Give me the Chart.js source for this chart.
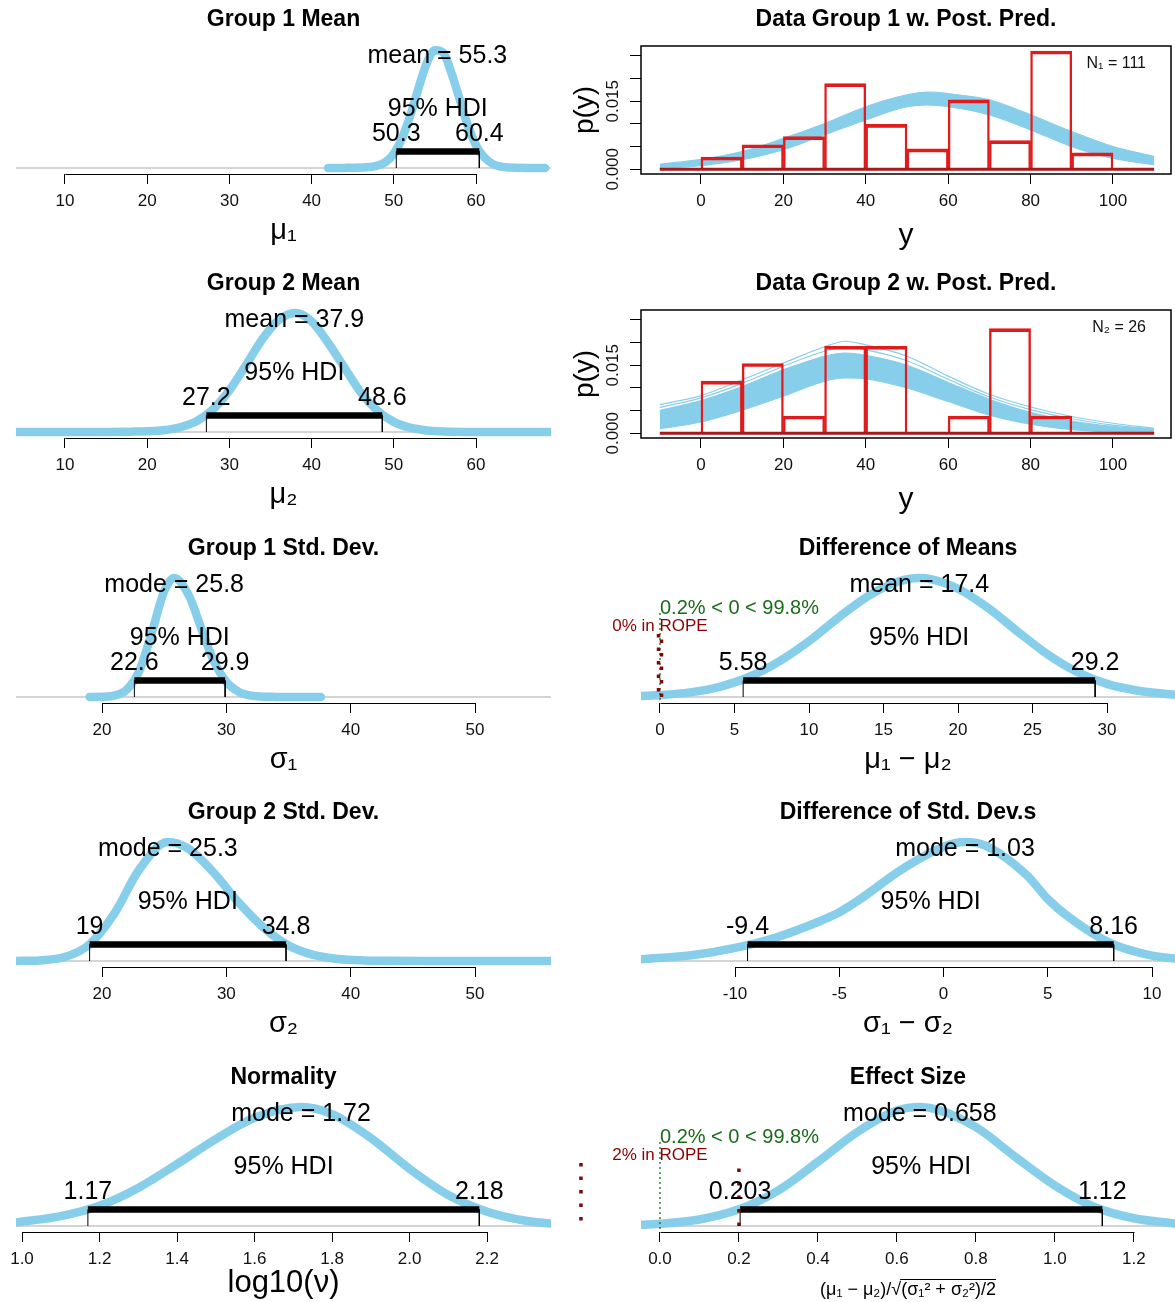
<!DOCTYPE html>
<html>
<head>
<meta charset="utf-8">
<title>BEST posterior summary</title>
<script src="https://cdn.jsdelivr.net/npm/chart.js@4.4.1/dist/chart.umd.min.js"></script>
<style>
html,body{margin:0;padding:0;background:#ffffff;}
body{position:relative;width:1175px;height:1302px;overflow:hidden;}
canvas{position:absolute;display:block;}
</style>
</head>
<body>
<script>
// ================= DATA =================
// Group 1 mean  (mu1)
const mu1Ticks  = [10, 20, 30, 40, 50, 60];
const mu1X      = [42, 44, 46, 47, 48, 49, 50, 51, 52, 53, 54, 55, 56, 57, 58, 59, 60, 61, 62, 63, 64, 66, 68.4];
const mu1Y      = [0, 0.001, 0.004, 0.008, 0.02, 0.05, 0.12, 0.25, 0.44, 0.67, 0.88, 0.99, 0.97, 0.80, 0.58, 0.36, 0.19, 0.09, 0.035, 0.012, 0.004, 0, 0];
const mu1HDI    = [50.3, 60.4];
const mu1Center = 55.3;

// Group 2 mean  (mu2)
const mu2Ticks  = [10, 20, 30, 40, 50, 60];
const mu2X      = [4, 10, 15, 18, 20, 22, 24, 26, 28, 30, 32, 34, 36, 38, 40, 42, 44, 46, 48, 50, 52, 54, 56, 60, 65, 69.1];
const mu2Y      = [0, 0, 0.001, 0.003, 0.006, 0.015, 0.04, 0.09, 0.19, 0.35, 0.56, 0.78, 0.94, 1.0, 0.93, 0.75, 0.54, 0.33, 0.18, 0.085, 0.036, 0.013, 0.004, 0, 0, 0];
const mu2HDI    = [27.2, 48.6];
const mu2Center = 37.9;

// Group 1 std. dev. (sigma1)
const sd1Ticks  = [20, 30, 40, 50];
const sd1X      = [19, 20, 21, 22, 23, 24, 25, 25.8, 27, 28, 29, 30, 31, 32, 33, 34, 35, 37.6];
const sd1Y      = [0, 0.002, 0.012, 0.063, 0.22, 0.54, 0.89, 1.0, 0.85, 0.57, 0.30, 0.127, 0.043, 0.011, 0.003, 0.001, 0, 0];
const sd1HDI    = [22.6, 29.9];
const sd1Center = 25.8;

// Group 2 std. dev. (sigma2)
const sd2Ticks  = [20, 30, 40, 50];
const sd2X      = [13.1, 15, 17, 19, 21, 23, 25.3, 27, 29, 31, 33, 35, 37, 39, 41, 43, 46, 50, 56.1];
const sd2Y      = [0.001, 0.005, 0.033, 0.14, 0.40, 0.77, 1.0, 0.94, 0.74, 0.49, 0.28, 0.13, 0.051, 0.017, 0.005, 0.0015, 0, 0, 0];
const sd2HDI    = [19, 34.8];
const sd2Center = 25.3;

// Normality log10(nu)
const nuTicks   = [1.0, 1.2, 1.4, 1.6, 1.8, 2.0, 2.2];
const nuX       = [0.985, 1.1, 1.2, 1.3, 1.4, 1.5, 1.6, 1.72, 1.8, 1.9, 2.0, 2.1, 2.2, 2.3, 2.365];
const nuY       = [0.03, 0.083, 0.17, 0.32, 0.52, 0.73, 0.91, 1.0, 0.94, 0.74, 0.48, 0.26, 0.12, 0.044, 0.021];
const nuHDI     = [1.17, 2.18];
const nuCenter  = 1.72;

// Difference of means
const dmTicks   = [0, 5, 10, 15, 20, 25, 30];
const dmX       = [-1.27, 0, 2, 4, 6, 8, 10, 12, 14, 16, 17.4, 18, 20, 22, 24, 26, 28, 30, 32, 34.56];
const dmY       = [0.0085, 0.016, 0.039, 0.086, 0.17, 0.30, 0.47, 0.67, 0.85, 0.97, 1.0, 0.995, 0.91, 0.75, 0.55, 0.36, 0.21, 0.11, 0.055, 0.018];
const dmHDI     = [5.58, 29.2];
const dmCenter  = 17.4;
const dmCompare = [0.2, 0, 99.8];   // % below, comparison value, % above
const dmRope    = [-0.1, 0.1];
const dmRopePct = 0;

// Difference of std. devs
const dsTicks   = [-10, -5, 0, 5, 10];
const dsX       = [-14.5, -12, -10, -8, -6, -5, -4, -2, 0, 1.03, 2, 4, 5, 6, 8, 10, 11.1];
const dsY       = [0.015, 0.05, 0.11, 0.2, 0.33, 0.41, 0.52, 0.77, 0.96, 1.0, 0.97, 0.72, 0.52, 0.37, 0.15, 0.045, 0.02];
const dsHDI     = [-9.4, 8.16];
const dsCenter  = 1.03;

// Effect size
const esTicks   = [0.0, 0.2, 0.4, 0.6, 0.8, 1.0, 1.2];
const esX       = [-0.048, 0, 0.1, 0.2, 0.3, 0.4, 0.5, 0.6, 0.658, 0.7, 0.8, 0.9, 1.0, 1.1, 1.2, 1.304];
const esY       = [0.01, 0.018, 0.055, 0.14, 0.30, 0.54, 0.79, 0.97, 1.0, 0.98, 0.83, 0.58, 0.34, 0.16, 0.065, 0.02];
const esHDI     = [0.203, 1.12];
const esCenter  = 0.658;
const esCompare = [0.2, 0, 99.8];
const esRope    = [-0.2, 0.2];
const esRopePct = 2;

// Data + posterior predictive panels
const yTicks       = [0, 20, 40, 60, 80, 100];
const densTicks    = [0, 0.005, 0.010, 0.015, 0.020, 0.025];
const densLabeled  = [0, 0.015];
const binCenters   = [5, 15, 25, 35, 45, 55, 65, 75, 85, 95];
const histRange    = [-10, 110];
const g1Density    = [0.0027, 0.0054, 0.0072, 0.0189, 0.0099, 0.0045, 0.0153, 0.0063, 0.0261, 0.0036];
const g2Density    = [0.0115, 0.0154, 0.0038, 0.0192, 0.0192, 0, 0.0038, 0.0231, 0.0038, 0];
const n1 = 111, n2 = 26;
const g1PredX      = [-10, 0, 10, 20, 30, 40, 50, 55, 60, 70, 80, 90, 100, 110];
const g1BandHi     = [0.0011, 0.0022, 0.0039, 0.0068, 0.0101, 0.0138, 0.0164, 0.0170, 0.0167, 0.0153, 0.0120, 0.0083, 0.0050, 0.0028];
const g1BandLo     = [0.0002, 0.0008, 0.0021, 0.0043, 0.0076, 0.0109, 0.0138, 0.0142, 0.0138, 0.0120, 0.0087, 0.0050, 0.0024, 0.0010];
const g2PredX      = [-10, 0, 10, 20, 30, 35, 40, 50, 60, 70, 80, 90, 100, 110];
const g2OuterHi    = [0.0063, 0.0083, 0.0118, 0.0155, 0.0191, 0.0203, 0.0195, 0.0170, 0.0126, 0.0086, 0.0058, 0.0037, 0.0022, 0.0011];
const g2MidHi      = [0.0057, 0.0078, 0.0110, 0.0148, 0.0181, 0.0190, 0.0184, 0.0160, 0.0119, 0.0080, 0.0052, 0.0032, 0.0018, 0.0009];
const g2BandHi     = [0.0050, 0.0072, 0.0103, 0.0140, 0.0170, 0.0177, 0.0172, 0.0150, 0.0112, 0.0075, 0.0046, 0.0027, 0.0015, 0.0008];
const g2BandLo     = [0.0010, 0.0025, 0.0051, 0.0082, 0.0115, 0.0122, 0.0120, 0.0100, 0.0070, 0.0040, 0.0020, 0.0008, 0.0003, 0.0001];

// ================= LAYOUT / STYLE =================
const FONT = "'Liberation Sans', Arial, Helvetica, 'DejaVu Sans', sans-serif";
Chart.defaults.font.family = FONT;
Chart.defaults.color = '#000';
const SKY = '#87CEEB';
const H = 265;
const ROW_TOP = [0, 264, 529, 793, 1058];
const LEFT_COL  = {left: 0,   width: 587, padL: 16, padR: 36};
const RIGHT_COL = {left: 560, width: 615, padL: 81, padR: 0};
const PEAK = 119;            // pixels for a normalised density of 1
const CHART_TOP = 34, CHART_BOTTOM = 174, BASE_GAP = 6;
const TITLE_SIZE = 23;
const TITLE_FONT = {family: FONT, size: TITLE_SIZE, weight: 'bold'};
const TICK_FONT = {family: FONT, size: 17};
const TEXT_PX = 25;

function makeCanvas(left, top, w) {
  const c = document.createElement('canvas');
  c.width = w; c.height = H;
  c.style.left = left + 'px'; c.style.top = top + 'px';
  c.style.width = w + 'px'; c.style.height = H + 'px';
  document.body.appendChild(c);
  return c;
}
const pts = (xs, ys) => xs.map((x, i) => ({x: x, y: ys[i]}));

function xAxis(p, titleSize, titlePad) {
  return {
    type: 'linear', min: p.xLim[0], max: p.xLim[1], offset: false,
    afterFit: s => { s.height = H - CHART_BOTTOM; },
    afterBuildTicks: s => { s.ticks = p.ticks.map(v => ({value: v})); },
    grid: {display: true, offset: false, drawOnChartArea: false, drawTicks: true, tickLength: 10, color: '#000', lineWidth: 1},
    border: {display: false},
    ticks: {autoSkip: false, maxRotation: 0, minRotation: 0, padding: 7, font: TICK_FONT, color: '#111',
            callback: v => Number(v).toFixed(p.dec)},
    title: {display: true, text: p.axis, font: {family: FONT, size: titleSize}, color: '#000',
            padding: {top: 0, bottom: titlePad}}
  };
}

function posteriorPlugin(p) {
  return {
    id: 'postAnnot',
    afterDatasetsDraw(chart) {
      const {ctx, chartArea} = chart;
      const sx = chart.scales.x, sy = chart.scales.y;
      const px = v => sx.getPixelForValue(v);
      const base = sy.getPixelForValue(0);
      ctx.save();
      ctx.strokeStyle = '#000'; ctx.lineWidth = 1;
      const yb = Math.round(chartArea.bottom) + 0.5;
      ctx.beginPath();
      ctx.moveTo(Math.round(px(p.ticks[0])) + 0.5, yb);
      ctx.lineTo(Math.round(px(p.ticks[p.ticks.length - 1])) + 0.5, yb);
      ctx.stroke();
      ctx.textAlign = 'center'; ctx.textBaseline = 'middle'; ctx.fillStyle = '#000';
      ctx.font = TEXT_PX + 'px ' + FONT;
      ctx.fillText(p.centerName + ' = ' + p.center, px(p.center), base - 112);
      ctx.fillText('95% HDI', px((p.hdi[0] + p.hdi[1]) / 2), base - 59);
      ctx.fillText(String(p.hdi[0]), px(p.hdi[0]), base - 34);
      ctx.fillText(String(p.hdi[1]), px(p.hdi[1]), base - 34);
      if (p.compare) {
        ctx.fillStyle = '#1a6b1a'; ctx.textAlign = 'left';
        ctx.font = '20px ' + FONT;
        ctx.fillText(p.compare[0] + '% < ' + p.compare[1] + ' < ' + p.compare[2] + '%', px(p.compare[1]), base - 89);
      }
      if (p.rope) {
        ctx.fillStyle = '#8B0000'; ctx.textAlign = 'center';
        ctx.font = '17px ' + FONT;
        ctx.fillText(p.ropePct + '% in ROPE', px((p.rope[0] + p.rope[1]) / 2), base - 71);
      }
      if (p.overline) {
        // radical bar of the effect-size axis label
        ctx.font = p.axisSize + 'px ' + FONT;
        const full = ctx.measureText(p.axis).width;
        const pre = ctx.measureText(p.overline).width;
        const cx = (chartArea.left + chartArea.right) / 2;
        const cy = sx.bottom - p.axisPad - p.axisSize * 1.2 / 2;
        const x0 = cx - full / 2 + pre, x1 = cx + full / 2;
        const yo = Math.round(cy - p.axisSize * 0.62) + 0.5;
        ctx.strokeStyle = '#000'; ctx.lineWidth = 1;
        ctx.beginPath(); ctx.moveTo(x0 - 1, yo); ctx.lineTo(x1, yo); ctx.stroke();
      }
      ctx.restore();
    }
  };
}

function posteriorPanel(p) {
  const col = p.col;
  const cv = makeCanvas(col.left, ROW_TOP[p.row], col.width);
  const yMin = -BASE_GAP / PEAK;
  const yMax = (CHART_BOTTOM - CHART_TOP - BASE_GAP) / PEAK;
  const barY = 16.5 / PEAK;
  const ds = [];
  ds.push({data: [{x: p.xLim[0], y: 0}, {x: p.xLim[1], y: 0}], borderColor: '#c6c6c6', borderWidth: 1.5, order: 10});
  ds.push({data: pts(p.xs, p.ys), borderColor: SKY, borderWidth: 8.5, cubicInterpolationMode: 'monotone',
           borderCapStyle: 'round', borderJoinStyle: 'round', order: 5});
  ds.push({data: [{x: p.hdi[0], y: 0}, {x: p.hdi[0], y: barY}, {x: p.hdi[1], y: barY}, {x: p.hdi[1], y: 0}],
           borderColor: '#000', borderWidth: 1, order: 3});
  ds.push({data: [{x: p.hdi[0], y: barY}, {x: p.hdi[1], y: barY}], borderColor: '#000', borderWidth: 6.5,
           borderCapStyle: 'butt', order: 2});
  if (p.compare) {
    ds.push({data: [{x: p.compare[1], y: -3 / PEAK}, {x: p.compare[1], y: 84 / PEAK}], borderColor: '#1a6b1a',
             borderWidth: 1.3, borderDash: [2, 3], order: 1});
  }
  if (p.rope) {
    ds.push({data: [{x: p.rope[1], y: 0}, {x: p.rope[1], y: 63 / PEAK}, {x: 0, y: null},
                    {x: p.rope[0], y: 63 / PEAK}, {x: p.rope[0], y: 0}],
             borderColor: '#7a0a0a', borderWidth: 3.5, borderDash: [3.5, 10], spanGaps: false, clip: false, order: 0});
  }
  new Chart(cv, {
    type: 'line',
    data: {datasets: ds},
    options: {
      responsive: false, animation: false, events: [],
      layout: {padding: {left: col.padL, right: col.padR, top: 0, bottom: 0}},
      elements: {point: {radius: 0}, line: {tension: 0}},
      plugins: {
        legend: {display: false}, tooltip: {enabled: false},
        title: {display: true, text: p.title, fullSize: false, font: TITLE_FONT, color: '#000',
                padding: {top: 6.2, bottom: CHART_TOP - 6.2 - TITLE_SIZE * 1.2}}
      },
      scales: {
        x: xAxis(p, p.axisSize, p.axisPad),
        y: {type: 'linear', display: false, min: yMin, max: yMax}
      }
    },
    plugins: [posteriorPlugin(p)]
  });
}

function dataPanel(p) {
  const col = RIGHT_COL;
  const cv = makeCanvas(col.left, ROW_TOP[p.row], col.width);
  const ds = [];
  ds.push({type: 'bar', data: pts(binCenters, p.density), borderColor: '#e01b1b', backgroundColor: 'rgba(0,0,0,0)',
           borderWidth: {top: 3, left: 1.75, right: 1.75, bottom: 0}, barPercentage: 1, categoryPercentage: 1,
           grouped: false, order: 1});
  ds.push({data: [{x: histRange[0], y: 0}, {x: histRange[1], y: 0}], borderColor: '#a81818', borderWidth: 3, order: 0});
  p.curves.forEach(c => ds.push({data: pts(p.predX, c), borderColor: SKY, borderWidth: 1.2,
                                   cubicInterpolationMode: 'monotone', order: 7}));
  ds.push({data: pts(p.predX, p.bandHi), borderColor: SKY, borderWidth: 1.2, cubicInterpolationMode: 'monotone', order: 6});
  ds.push({data: pts(p.predX, p.bandLo), borderColor: SKY, borderWidth: 1.2, cubicInterpolationMode: 'monotone',
           fill: '-1', backgroundColor: SKY, order: 6});
  const plug = {
    id: 'dataAnnot',
    afterDatasetsDraw(chart) {
      const {ctx, chartArea} = chart;
      ctx.save();
      ctx.strokeStyle = '#000'; ctx.lineWidth = 1.5;
      ctx.strokeRect(chartArea.left, chartArea.top, chartArea.right - chartArea.left, chartArea.bottom - chartArea.top);
      ctx.fillStyle = '#111'; ctx.textAlign = 'right'; ctx.textBaseline = 'middle';
      ctx.font = '16px ' + FONT;
      ctx.fillText(p.nLabel, 1146 - col.left, 64);
      ctx.restore();
    }
  };
  new Chart(cv, {
    type: 'line',
    data: {datasets: ds},
    options: {
      responsive: false, animation: false, events: [],
      layout: {padding: {left: 1, right: 4, top: 0, bottom: 0}},
      elements: {point: {radius: 0}, line: {tension: 0}},
      plugins: {
        legend: {display: false}, tooltip: {enabled: false},
        title: {display: true, text: p.title, fullSize: false, font: TITLE_FONT, color: '#000',
                padding: {top: 6.2, bottom: 46 - 6.2 - TITLE_SIZE * 1.2}}
      },
      scales: {
        x: xAxis({xLim: [-14.56, 114.08], ticks: yTicks, dec: 0, axis: 'y'}, 30, 11),
        y: {
          type: 'linear', position: 'left', min: -0.00105, max: 0.0272,
          afterFit: s => { s.width = 80; },
          afterBuildTicks: s => { s.ticks = densTicks.map(v => ({value: v})); },
          grid: {display: true, drawOnChartArea: false, drawTicks: true, tickLength: 11, color: '#000', lineWidth: 1},
          border: {display: false},
          ticks: {autoSkip: false, minRotation: 90, maxRotation: 90, crossAlign: 'center', padding: -5,
                  font: TICK_FONT, color: '#111',
                  callback: v => densLabeled.indexOf(v) >= 0 ? Number(v).toFixed(3) : ''},
          title: {display: true, text: 'p(y)', font: {family: FONT, size: 28}, color: '#000', padding: {top: 7, bottom: 0}}
        }
      }
    },
    plugins: [plug]
  });
}

// ================= BUILD =================
posteriorPanel({row: 0, col: LEFT_COL, title: 'Group 1 Mean', xs: mu1X, ys: mu1Y, xLim: [4.04, 69.12], ticks: mu1Ticks, dec: 0,
  hdi: mu1HDI, center: mu1Center, centerName: 'mean', axis: 'μ₁', axisSize: 29, axisPad: 17});
posteriorPanel({row: 1, col: LEFT_COL, title: 'Group 2 Mean', xs: mu2X, ys: mu2Y, xLim: [4.04, 69.12], ticks: mu2Ticks, dec: 0,
  hdi: mu2HDI, center: mu2Center, centerName: 'mean', axis: 'μ₂', axisSize: 29, axisPad: 17});
posteriorPanel({row: 2, col: LEFT_COL, title: 'Group 1 Std. Dev.', xs: sd1X, ys: sd1Y, xLim: [13.08, 56.11], ticks: sd1Ticks, dec: 0,
  hdi: sd1HDI, center: sd1Center, centerName: 'mode', axis: 'σ₁', axisSize: 29, axisPad: 17});
posteriorPanel({row: 3, col: LEFT_COL, title: 'Group 2 Std. Dev.', xs: sd2X, ys: sd2Y, xLim: [13.08, 56.11], ticks: sd2Ticks, dec: 0,
  hdi: sd2HDI, center: sd2Center, centerName: 'mode', axis: 'σ₂', axisSize: 29, axisPad: 17});
posteriorPanel({row: 4, col: LEFT_COL, title: 'Normality', xs: nuX, ys: nuY, xLim: [0.9845, 2.365], ticks: nuTicks, dec: 1,
  hdi: nuHDI, center: nuCenter, centerName: 'mode', axis: 'log10(ν)', axisSize: 31, axisPad: 21});

dataPanel({row: 0, title: 'Data Group 1 w. Post. Pred.', density: g1Density, predX: g1PredX,
  bandHi: g1BandHi, bandLo: g1BandLo, curves: [], nLabel: 'N₁ = ' + n1});
dataPanel({row: 1, title: 'Data Group 2 w. Post. Pred.', density: g2Density, predX: g2PredX,
  bandHi: g2BandHi, bandLo: g2BandLo, curves: [g2OuterHi, g2MidHi], nLabel: 'N₂ = ' + n2});

posteriorPanel({row: 2, col: RIGHT_COL, title: 'Difference of Means', xs: dmX, ys: dmY, xLim: [-1.275, 34.56], ticks: dmTicks, dec: 0,
  hdi: dmHDI, center: dmCenter, centerName: 'mean', axis: 'μ₁ − μ₂', axisSize: 29, axisPad: 17,
  compare: dmCompare, rope: dmRope, ropePct: dmRopePct});
posteriorPanel({row: 3, col: RIGHT_COL, title: 'Difference of Std. Dev.s', xs: dsX, ys: dsY, xLim: [-14.51, 11.1], ticks: dsTicks, dec: 0,
  hdi: dsHDI, center: dsCenter, centerName: 'mode', axis: 'σ₁ − σ₂', axisSize: 29, axisPad: 17});
posteriorPanel({row: 4, col: RIGHT_COL, title: 'Effect Size', xs: esX, ys: esY, xLim: [-0.048, 1.304], ticks: esTicks, dec: 1,
  hdi: esHDI, center: esCenter, centerName: 'mode', axis: '(μ₁ − μ₂)/√(σ₁² + σ₂²)/2', overline: '(μ₁ − μ₂)/√',
  axisSize: 18, axisPad: 22, compare: esCompare, rope: esRope, ropePct: esRopePct});
</script>
</body>
</html>
